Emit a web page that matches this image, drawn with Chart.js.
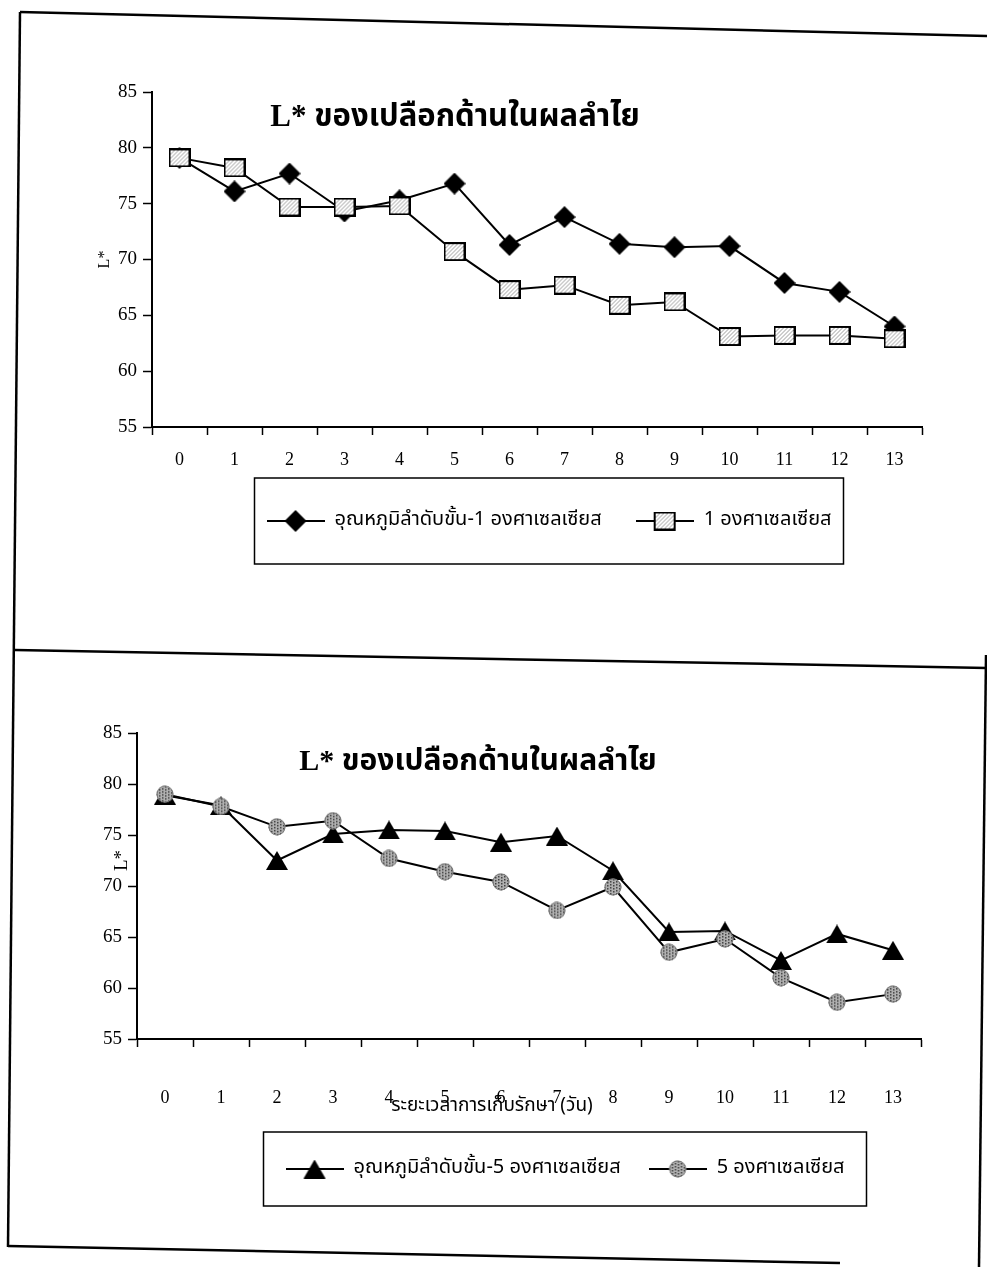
<!DOCTYPE html>
<html>
<head>
<meta charset="utf-8">
<script src="https://cdn.jsdelivr.net/npm/chart.js@4.4.1/dist/chart.umd.min.js"></script>
<style>
  html, body { margin: 0; padding: 0; background: #fff; }
  body { width: 987px; height: 1267px; position: relative; overflow: hidden; }
  #chartTop { position: absolute; left: 0; top: 0; }
  #chartBottom { position: absolute; left: 0; top: 620px; }
  #frame { position: absolute; left: 0; top: 0; pointer-events: none; }
</style>
</head>
<body>
<canvas id="chartTop" width="987" height="620" style="width:987px;height:620px"></canvas>
<canvas id="chartBottom" width="987" height="647" style="width:987px;height:647px"></canvas>
<svg id="frame" width="987" height="1267">
  <g stroke="#000" stroke-width="2.5" fill="none">
    <line x1="20" y1="12" x2="987" y2="36"/>
    <line x1="20" y1="12" x2="8" y2="1247"/>
    <line x1="15" y1="650" x2="987" y2="668"/>
    <line x1="986" y1="655" x2="979" y2="1267"/>
    <line x1="8" y1="1246" x2="840" y2="1263"/>
  </g>
</svg>
<script>
// Storage days (x categories)
const days = ['0', '1', '2', '3', '4', '5', '6', '7', '8', '9', '10', '11', '12', '13'];

// L* axis range and step
const yMin = 55;
const yMax = 85;
const yStep = 5;

// Upper chart: stepped cooling to 1 °C vs. direct 1 °C
const step1Name = 'อุณหภูมิลำดับขั้น-1 องศาเซลเซียส';
const step1Values = [79.1, 76.1, 77.7, 74.3, 75.3, 76.8, 71.3, 73.8, 71.4, 71.1, 71.2, 67.9, 67.1, 64.0];
const direct1Name = '1 องศาเซลเซียส';
const direct1Values = [79.1, 78.2, 74.7, 74.7, 74.8, 70.7, 67.3, 67.7, 65.9, 66.2, 63.1, 63.2, 63.2, 62.9];

// Lower chart: stepped cooling to 5 °C vs. direct 5 °C
const step5Name = 'อุณหภูมิลำดับขั้น-5 องศาเซลเซียส';
const step5Values = [78.9, 77.9, 72.5, 75.1, 75.5, 75.4, 74.3, 74.9, 71.5, 65.5, 65.6, 62.7, 65.3, 63.7];
const direct5Name = '5 องศาเซลเซียส';
const direct5Values = [79.0, 77.8, 75.8, 76.4, 72.7, 71.4, 70.4, 67.6, 69.9, 63.5, 64.8, 61.0, 58.6, 59.4];

const chartTitle = 'L* ของเปลือกด้านในผลลำไย';
const yTitle = 'L*';
const xTitle = 'ระยะเวลาการเก็บรักษา (วัน)';

const serif = '"Liberation Serif", "Times New Roman", serif';
const thai = '"Noto Sans Thai", "Loma", "Garuda", "Norasi", "DejaVu Sans", sans-serif';

// ---- marker glyphs -------------------------------------------------------
function glyph(w, h, paint) {
  const c = document.createElement('canvas');
  c.width = w; c.height = h;
  paint(c.getContext('2d'), w, h);
  return c;
}

const diamond = glyph(22, 22, (g, w, h) => {
  g.fillStyle = '#000';
  g.beginPath();
  g.moveTo(w / 2, 0); g.lineTo(w, h / 2); g.lineTo(w / 2, h); g.lineTo(0, h / 2);
  g.closePath(); g.fill();
});

const hatchedSquare = glyph(22, 19, (g, w, h) => {
  g.fillStyle = '#fff';
  g.fillRect(0, 0, w, h);
  g.strokeStyle = '#9a9a9a';
  g.lineWidth = 1;
  for (let k = -h; k < w; k += 4) {
    g.beginPath(); g.moveTo(k, h); g.lineTo(k + h, 0); g.stroke();
  }
  g.strokeStyle = '#000';
  g.lineWidth = 2;
  g.strokeRect(1, 1, w - 2, h - 2);
});

const triangle = glyph(22, 19, (g, w, h) => {
  g.fillStyle = '#000';
  g.beginPath();
  g.moveTo(w / 2, 0); g.lineTo(w, h); g.lineTo(0, h);
  g.closePath(); g.fill();
});

const speckledCircle = glyph(18, 18, (g, w, h) => {
  g.save();
  g.beginPath(); g.arc(w / 2, h / 2, 8.5, 0, Math.PI * 2); g.clip();
  g.fillStyle = '#b0b0b0';
  g.fillRect(0, 0, w, h);
  g.fillStyle = '#404040';
  for (let i = 0; i < w; i += 3) {
    for (let j = (i / 3) % 2 ? 1 : 0; j < h; j += 3) g.fillRect(i, j, 1.5, 1.5);
  }
  g.restore();
  g.strokeStyle = '#777';
  g.lineWidth = 1;
  g.beginPath(); g.arc(w / 2, h / 2, 8, 0, Math.PI * 2); g.stroke();
});

// legend icon: a short line with the marker on it
function legendIcon(marker) {
  return glyph(58, 22, (g, w, h) => {
    g.strokeStyle = '#000';
    g.lineWidth = 2;
    g.beginPath(); g.moveTo(0, h / 2); g.lineTo(w, h / 2); g.stroke();
    g.drawImage(marker, (w - marker.width) / 2, (h - marker.height) / 2);
  });
}

// ---- decorations: in-plot title, axis titles, legend frame --------------
const decor = {
  id: 'decor',
  afterLayout(chart, args, opts) {
    const lg = chart.legend;
    if (lg && opts.legendShift) {
      lg.left += opts.legendShift;
      lg.right += opts.legendShift;
    }
  },
  afterDraw(chart, args, opts) {
    const ctx = chart.ctx;
    ctx.save();
    ctx.fillStyle = '#000';
    ctx.textAlign = 'center';
    ctx.textBaseline = 'middle';

    // frame round the legend
    const lg = chart.legend;
    if (lg && lg.legendHitBoxes && lg.legendHitBoxes.length) {
      const hb = lg.legendHitBoxes;
      const l = Math.min(...hb.map(b => b.left)) - opts.frameInset;
      const r = Math.max(...hb.map(b => b.left + b.width)) + opts.frameInset;
      const t = Math.min(...hb.map(b => b.top)) - opts.framePadY;
      const b = Math.max(...hb.map(b => b.top + b.height)) + opts.framePadY;
      ctx.strokeStyle = '#000';
      ctx.lineWidth = 1.5;
      ctx.strokeRect(l, t, r - l, b - t);
    }

    // chart title inside the plot
    ctx.font = 'bold ' + opts.titleSize + 'px ' + serif + ', ' + thai;
    ctx.fillText(chartTitle, opts.titleX, opts.titleY);

    // y-axis title
    ctx.save();
    ctx.translate(opts.yTitleX, chart.scales.y.getPixelForValue(opts.yTitleAt));
    ctx.rotate(-Math.PI / 2);
    ctx.font = opts.yTitleSize + 'px ' + serif;
    ctx.fillText(yTitle, 0, 0);
    ctx.restore();

    // x-axis title
    if (opts.xTitle) {
      ctx.font = '19px ' + thai;
      ctx.fillText(opts.xTitle, opts.xTitleX, opts.xTitleY);
    }
    ctx.restore();
  }
};

function buildChart(canvasId, series, names, markers, geo) {
  const icons = markers.map(legendIcon);
  return new Chart(document.getElementById(canvasId), {
    type: 'line',
    data: {
      labels: days,
      datasets: [
        { label: names[0], data: series[0], borderColor: '#000', borderWidth: 2,
          pointStyle: markers[0], tension: 0, fill: false, order: 0 },
        { label: names[1], data: series[1], borderColor: '#000', borderWidth: 2,
          pointStyle: markers[1], tension: 0, fill: false, order: -1 }
      ]
    },
    options: {
      responsive: false,
      animation: false,
      events: [],
      layout: { padding: { left: 0, right: geo.padR, top: geo.padT, bottom: geo.padB } },
      scales: {
        x: {
          type: 'category',
          offset: true,
          grid: { offset: true, drawOnChartArea: false, drawTicks: true, tickLength: 8,
                  color: '#000', tickColor: '#000', tickWidth: 1.5 },
          border: { color: '#000', width: 2 },
          ticks: { color: '#000', font: { family: serif, size: 18 }, padding: geo.xPad,
                   maxRotation: 0, autoSkip: false },
          afterFit(s) { s.height = geo.xH; }
        },
        y: {
          min: yMin, max: yMax,
          grid: { drawOnChartArea: false, drawTicks: true, tickLength: 9,
                  color: '#000', tickColor: '#000', tickWidth: 1.5 },
          border: { color: '#000', width: 2 },
          ticks: { stepSize: yStep, color: '#000', font: { family: serif, size: 19 }, padding: 6 },
          afterFit(s) { s.width = geo.yW; }
        }
      },
      plugins: {
        tooltip: { enabled: false },
        title: { display: false },
        legend: {
          position: 'bottom',
          fullSize: false,
          labels: {
            usePointStyle: true,
            pointStyleWidth: 58,
            boxHeight: 18,
            padding: geo.lgPad,
            color: '#000',
            font: { family: thai, size: 20 },
            sort: (a, b) => a.datasetIndex - b.datasetIndex,
            generateLabels(chart) {
              const items = Chart.defaults.plugins.legend.labels.generateLabels(chart);
              items.forEach(it => { it.pointStyle = icons[it.datasetIndex]; it.lineWidth = 0; });
              return items;
            }
          }
        },
        decor: geo.decor
      }
    },
    plugins: [decor]
  });
}

buildChart('chartTop', [step1Values, direct1Values], [step1Name, direct1Name],
  [diamond, hatchedSquare], {
    padR: 65, padT: 92, padB: 79, xH: 50, xPad: 14, yW: 152, lgPad: 34,
    decor: { legendShift: 12, frameInset: 12, framePadY: 33,
             titleX: 455, titleY: 118, titleSize: 31,
             yTitleX: 105, yTitleAt: 70, yTitleSize: 16 }
  });

buildChart('chartBottom', [step5Values, direct5Values], [step5Name, direct5Name],
  [triangle, speckledCircle], {
    padR: 66, padT: 113, padB: 78, xH: 92, xPad: 40, yW: 137, lgPad: 28,
    decor: { legendShift: 36, frameInset: 22, framePadY: 27,
             titleX: 478, titleY: 142, titleSize: 30,
             yTitleX: 122, yTitleAt: 72.5, yTitleSize: 19,
             xTitle: xTitle, xTitleX: 492, xTitleY: 487 }
  });
</script>
</body>
</html>
